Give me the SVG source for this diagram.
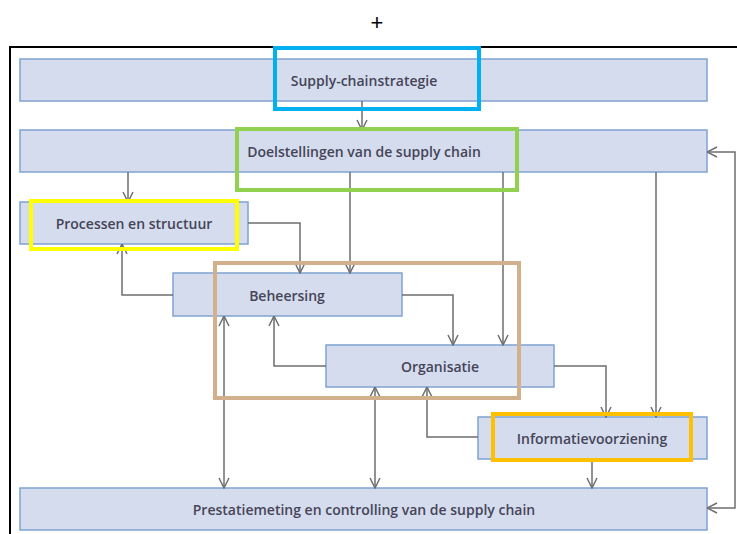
<svg xmlns="http://www.w3.org/2000/svg" width="737" height="534" viewBox="0 0 737 534">
  <defs>
    <marker id="arr" viewBox="0 0 12 12" refX="11.5" refY="6" markerWidth="12" markerHeight="12" markerUnits="userSpaceOnUse" orient="auto-start-reverse">
      <path d="M1.5,1 L11.5,6 L1.5,11" fill="none" stroke="#6e6e6e" stroke-width="1.5"/>
    </marker>
    <style>
      .box { fill: #d5dcee; stroke: #7fa3cf; stroke-width: 1.5; }
      .lbl { font-family: "Open Sans", "Liberation Sans", sans-serif; font-weight: 600; font-size: 14px; fill: #454557; text-anchor: middle; }
      .conn path { fill: none; stroke: #6e6e6e; stroke-width: 1.5; }
      .hl { fill: none; stroke-width: 4; }
    </style>
  </defs>
  <rect width="737" height="534" fill="#ffffff"/>

  <!-- plus sign and frame -->
  <text x="377" y="30" font-family="Liberation Sans, sans-serif" font-size="22" text-anchor="middle" fill="#000">+</text>
  <path d="M10,534 V47 H737" fill="none" stroke="#000" stroke-width="2"/>

  <!-- nodes -->
  <g id="strategie">
    <rect class="box" x="20" y="59" width="687" height="42"/>
    <text class="lbl" x="364" y="86">Supply-chainstrategie</text>
  </g>
  <g id="doelstellingen">
    <rect class="box" x="20" y="130" width="687" height="42"/>
    <text class="lbl" x="364" y="157">Doelstellingen van de supply chain</text>
  </g>
  <g id="processen">
    <rect class="box" x="20" y="202" width="228" height="42"/>
    <text class="lbl" x="134" y="229">Processen en structuur</text>
  </g>
  <g id="beheersing">
    <rect class="box" x="173" y="273" width="229" height="43"/>
    <text class="lbl" x="287" y="301">Beheersing</text>
  </g>
  <g id="organisatie">
    <rect class="box" x="326" y="345" width="228" height="42"/>
    <text class="lbl" x="440" y="372">Organisatie</text>
  </g>
  <g id="informatie">
    <rect class="box" x="478" y="417" width="229" height="42"/>
    <text class="lbl" x="592" y="444">Informatievoorziening</text>
  </g>
  <g id="prestatie">
    <rect class="box" x="20" y="488" width="687" height="42"/>
    <text class="lbl" x="364" y="515">Prestatiemeting en controlling van de supply chain</text>
  </g>

  <!-- connectors -->
  <g class="conn">
    <path d="M362,101 V130" marker-end="url(#arr)"/>
    <path d="M128,172 V202" marker-end="url(#arr)"/>
    <path d="M248,223 H300 V273" marker-end="url(#arr)"/>
    <path d="M350,172 V273" marker-end="url(#arr)"/>
    <path d="M173,295 H122 V244" marker-end="url(#arr)"/>
    <path d="M402,295 H453 V345" marker-end="url(#arr)"/>
    <path d="M503,172 V345" marker-end="url(#arr)"/>
    <path d="M326,366 H274 V316" marker-end="url(#arr)"/>
    <path d="M224,316 V488" marker-start="url(#arr)" marker-end="url(#arr)"/>
    <path d="M554,366 H606 V417" marker-end="url(#arr)"/>
    <path d="M656,172 V417" marker-end="url(#arr)"/>
    <path d="M478,437 H427 V387" marker-end="url(#arr)"/>
    <path d="M375,387 V488" marker-start="url(#arr)" marker-end="url(#arr)"/>
    <path d="M592,459 V488" marker-end="url(#arr)"/>
    <path d="M707,152 H735 V508 H707" marker-start="url(#arr)" marker-end="url(#arr)"/>
  </g>

  <!-- highlight frames -->
  <rect class="hl" x="275" y="48" width="204" height="61" stroke="#00b0f0"/>
  <rect class="hl" x="237" y="129" width="280" height="61" stroke="#92d050"/>
  <rect class="hl" x="31" y="201" width="206" height="48" stroke="#ffff00"/>
  <rect class="hl" x="215" y="263" width="304" height="135" stroke="#d2b08c"/>
  <rect class="hl" x="493" y="414" width="198" height="46" stroke="#ffc000"/>
</svg>
